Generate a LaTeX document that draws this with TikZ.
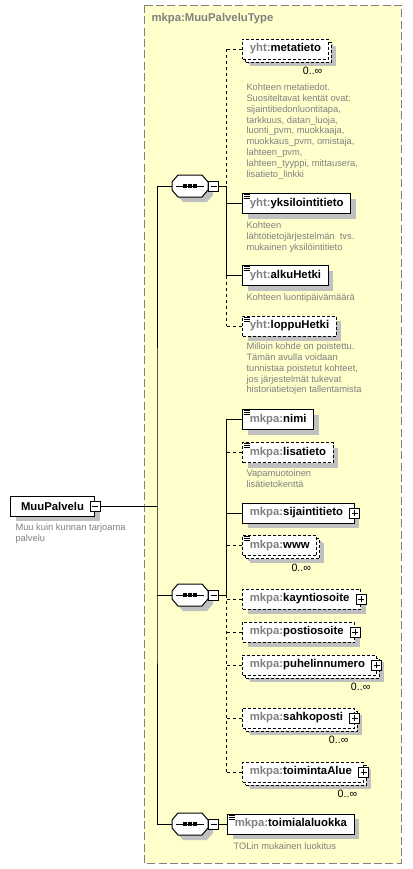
\documentclass[tikz,border=0pt]{standalone}
\usepackage{fontspec}
\setmainfont{Liberation Sans}
\usetikzlibrary{shadows}

\definecolor{typeyellow}{RGB}{255,255,204}
\definecolor{typeborder}{RGB}{128,128,128}
\definecolor{pfxgray}{RGB}{128,128,128}
\definecolor{descgray}{RGB}{128,128,128}
\definecolor{shadowgray}{RGB}{192,192,192}

\newcommand\pfx[1]{\textcolor{pfxgray}{#1}}
\newcommand\elfont{\fontsize{8.5}{10}\selectfont\bfseries}
\newcommand\docicon[1]{\foreach \k in {1.5,3.5,5.5} \draw ([shift={(1.5,\k)}]#1.north west) -- ++(6,0);}
% octagon of a sequence, drawn round an empty node
\newcommand\seqshape[2]{\path[#2] ([shift={(0,7)}]#1.north west) -- ([shift={(6,0)}]#1.north west)
  -- ([shift={(-6,0)}]#1.north east) -- ([shift={(0,7)}]#1.north east) -- ([shift={(0,-7)}]#1.south east)
  -- ([shift={(-6,0)}]#1.south east) -- ([shift={(6,0)}]#1.south west) -- ([shift={(0,-7)}]#1.south west) -- cycle;}

\begin{document}
\begin{tikzpicture}[x=0.75pt,y=-0.75pt,line width=0.75pt]
  \tikzstyle{typebox}=[draw=typeborder, fill=typeyellow, dash pattern=on 6pt off 2.5pt]
  \tikzstyle{title}=[anchor=west, inner sep=0pt, font=\elfont, text=pfxgray]
  \tikzstyle{shadowed}=[general shadow={shadow xshift=3.75pt, shadow yshift=-3.75pt, fill=shadowgray}]
  \tikzstyle{el}=[draw, fill=white, minimum height=15pt, inner xsep=5.5pt, inner ysep=0pt, anchor=west, font=\elfont, shadowed]
  \tikzstyle{opt}=[dash pattern=on 2.25pt off 1.5pt]
  \tikzstyle{mult}=[general shadow={shadow xshift=5.5pt, shadow yshift=-5.5pt, fill=shadowgray},
    general shadow={shadow xshift=2.25pt, shadow yshift=-2.25pt, draw, fill=white, dash pattern=on 2.25pt off 1.5pt}]
  \tikzstyle{cplx}=[execute at end node=\hspace{3pt}]
  \tikzstyle{optline}=[dash pattern=on 2.25pt off 2.25pt]
  \tikzstyle{pmbox}=[draw, fill=white, minimum size=7.5pt, inner sep=0pt, solid]
  \tikzstyle{minus}=[pmbox, path picture={\draw ([xshift=1.5pt]path picture bounding box.west) -- ([xshift=-1.5pt]path picture bounding box.east);}]
  \tikzstyle{plus}=[pmbox, path picture={\draw ([xshift=1.5pt]path picture bounding box.west) -- ([xshift=-1.5pt]path picture bounding box.east);
    \draw ([yshift=-1.5pt]path picture bounding box.north) -- ([yshift=1.5pt]path picture bounding box.south);}]
  \tikzstyle{seq}=[minimum width=26.25pt, minimum height=15.75pt, inner sep=0pt, anchor=west]
  \tikzstyle{desc}=[anchor=north west, inner sep=0pt, align=left, font=\fontsize{7}{8.1}\selectfont, text=descgray]
  \tikzstyle{mult label}=[anchor=north east, inner sep=0pt, font=\fontsize{8}{9}\selectfont]

  \useasboundingbox (0,0) rectangle (412,869);

  % Draw the complex type box
  \draw[typebox] (144,5) rectangle (401,863);
  \node[title] (typename) at (151,19) {mkpa:MuuPalveluType};

  % Draw the element
  \node[el, minimum width=63pt] (MuuPalvelu) at (10,506) {MuuPalvelu};
  \node[minus] (MuuPalvelu-pm) at (MuuPalvelu.east) {};
  \node[desc] (MuuPalvelu-d) at (15,523.5) {Muu kuin kunnan tarjoama\\palvelu};

  % Draw the sequences
  \node[seq] (seq1) at (172,186) {};
  \node[seq] (seq2) at (172,595) {};
  \node[seq] (seq3) at (172,824) {};
  \foreach \s in {seq1,seq2,seq3} {
    \seqshape{\s}{fill=shadowgray, transform canvas={shift={(3.75pt,-3.75pt)}}}
    \seqshape{\s}{draw, fill=white}
    \draw ([shift={(4,0)}]\s.west) -- ([shift={(-4,0)}]\s.east);
    \foreach \d in {-5,0,5}
    \fill ([shift={(\d,0)}]\s.center) +(-1.6,-1.6) rectangle +(1.6,1.6);
    \node[minus, anchor=west] (\s-pm) at (\s.east) {};
  }

  % Draw the child elements
  \node[el, opt, mult] (metatieto) at (242,49) {\pfx{yht:}metatieto};
  \node[el] (yksilointitieto) at (242,203.5) {\pfx{yht:}yksilointitieto};
  \node[el] (alkuHetki) at (242,275.5) {\pfx{yht:}alkuHetki};
  \node[el, opt] (loppuHetki) at (242,326) {\pfx{yht:}loppuHetki};

  \node[el] (nimi) at (242,419.5) {\pfx{mkpa:}nimi};
  \node[el, opt] (lisatieto) at (242,452.5) {\pfx{mkpa:}lisatieto};
  \node[el, cplx] (sijaintitieto) at (242,513) {\pfx{mkpa:}sijaintitieto};
  \node[el, opt, mult] (www) at (242,545.5) {\pfx{mkpa:}www};
  \node[el, opt, cplx] (kayntiosoite) at (242,599) {\pfx{mkpa:}kayntiosoite};
  \node[el, opt, cplx] (postiosoite) at (242,632) {\pfx{mkpa:}postiosoite};
  \node[el, opt, mult, cplx] (puhelinnumero) at (242,665) {\pfx{mkpa:}puhelinnumero};
  \node[el, opt, mult, cplx] (sahkoposti) at (242,718) {\pfx{mkpa:}sahkoposti};
  \node[el, opt, mult, cplx] (toimintaAlue) at (242,772) {\pfx{mkpa:}toimintaAlue};

  \node[el] (toimialaluokka) at (227,824) {\pfx{mkpa:}toimialaluokka};

  \foreach \n in {yksilointitieto,alkuHetki,loppuHetki,nimi,lisatieto,www,toimialaluokka}
  \docicon{\n};

  \foreach \n in {sijaintitieto,kayntiosoite,postiosoite,puhelinnumero,sahkoposti,toimintaAlue}
  \node[plus] (\n-pm) at (\n.east) {};

  \foreach \n in {metatieto,www,puhelinnumero,sahkoposti,toimintaAlue}
  \node[mult label] (\n-m) at ([shift={(-6,7.5)}]\n.south east) {0..∞};

  % Descriptions
  \node[desc] (metatieto-d) at (246,83.5) {Kohteen metatiedot.\\Suositeltavat kentät ovat:\\sijaintitiedonluontitapa,\\tarkkuus, datan\_luoja,\\luonti\_pvm, muokkaaja,\\muokkaus\_pvm, omistaja,\\lahteen\_pvm,\\lahteen\_tyyppi, mittausera,\\lisatieto\_linkki};
  \node[desc] (yksilointitieto-d) at (246,221.5) {Kohteen\\lähtötietojärjestelmän\ \ tvs.\\mukainen yksilöintitieto};
  \node[desc] (alkuHetki-d) at (246,293.5) {Kohteen luontipäivämäärä};
  \node[desc] (loppuHetki-d) at (246,342.5) {Milloin kohde on poistettu.\\Tämän avulla voidaan\\tunnistaa poistetut kohteet,\\jos järjestelmät tukevat\\historiatietojen tallentamista};
  \node[desc] (lisatieto-d) at (246,469.5) {Vapamuotoinen\\lisätietokenttä};
  \node[desc] (toimialaluokka-d) at (233,842.5) {TOLin mukainen luokitus};

  % Connect the element to the sequences
  \coordinate (trunk) at (157,506);
  \draw (MuuPalvelu-pm) -- (trunk);
  \draw (seq1.west) -| (trunk) |- (seq3.west);
  \draw (trunk |- seq2.west) -- (seq2.west);

  % Connect the sequences to their children
  \coordinate (b1) at (226,186);
  \coordinate (b2) at (226,595);
  \draw (seq1-pm) -- (b1);
  \draw (seq2-pm) -- (b2);
  \draw (seq3-pm) -- (toimialaluokka);

  \draw[optline] (b1 |- metatieto) -- (b1);
  \draw (b1) -- (b1 |- alkuHetki);
  \draw[optline] (b1 |- alkuHetki) -- (b1 |- loppuHetki);
  \foreach \n in {yksilointitieto,alkuHetki}
  \draw (\n) -- (\n -| b1);
  \foreach \n in {metatieto,loppuHetki}
  \draw[optline] (\n) -- (\n -| b1);

  \draw (b2 |- nimi) -- (b2);
  \draw[optline] (b2) -- (b2 |- toimintaAlue);
  \foreach \n in {nimi,sijaintitieto}
  \draw (\n) -- (\n -| b2);
  \foreach \n in {lisatieto,www,kayntiosoite,postiosoite,puhelinnumero,sahkoposti,toimintaAlue}
  \draw[optline] (\n) -- (\n -| b2);
\end{tikzpicture}
\end{document}
